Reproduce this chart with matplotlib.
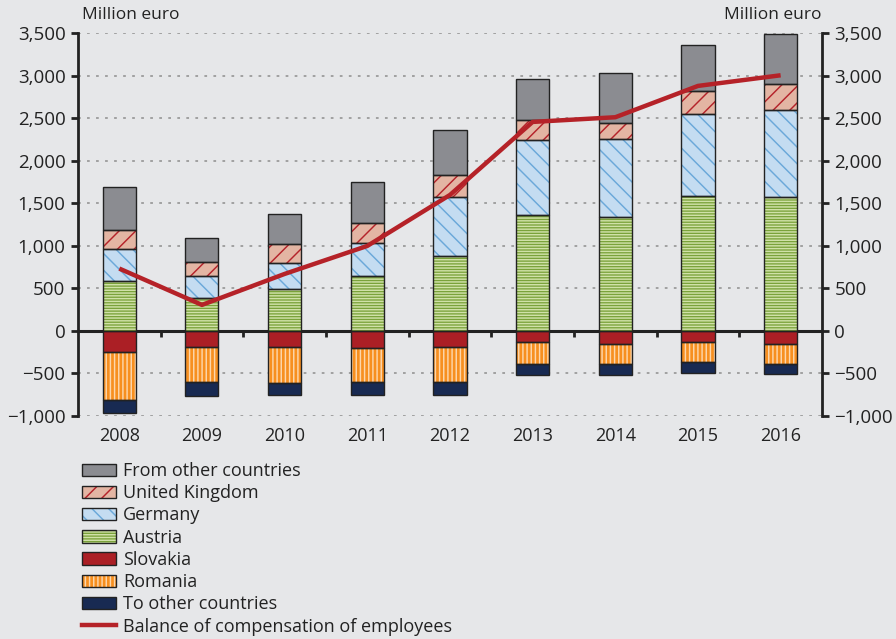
import numpy as np
import matplotlib
matplotlib.use("Agg")
import matplotlib.pyplot as plt
from matplotlib.patches import Patch
from matplotlib.lines import Line2D
from matplotlib.ticker import FuncFormatter, MultipleLocator

# data (million euro)
years = ["2008", "2009", "2010", "2011", "2012", "2013", "2014", "2015", "2016"]

austria = [591, 384, 489, 646, 881, 1366, 1339, 1586, 1574]
germany = [372, 258, 306, 383, 689, 874, 912, 959, 1022]
united_kingdom = [220, 165, 223, 239, 262, 242, 192, 274, 305]
from_other = [505, 281, 360, 486, 529, 474, 583, 540, 589]

slovakia = [-243, -192, -192, -204, -192, -129, -149, -129, -149]
romania = [-567, -411, -423, -399, -411, -263, -243, -235, -235]
to_other = [-157, -168, -141, -153, -153, -129, -129, -126, -121]

balance = [732, 305, 669, 998, 1597, 2455, 2510, 2878, 3003]

BG = "#e6e7e9"
FONT = ["Open Sans", "DejaVu Sans"]

plt.rcParams["font.family"] = FONT
plt.rcParams["hatch.linewidth"] = 1.05

# (label, values, fill, hatch, hatch colour)
positive = [
    ("Austria", austria, "#7aa23a", "------", "#d0e1a8"),
    ("Germany", germany, "#c4dcf1", "\\\\", "#6ba8d9"),
    ("United Kingdom", united_kingdom, "#e3b5a3", "//", "#b5232a"),
    ("From other countries", from_other, "#8b8c91", "", "#8b8c91"),
]
negative = [
    ("Slovakia", slovakia, "#ab1f25", "", "#ab1f25"),
    ("Romania", romania, "#f78f1f", "||||", "#fdd6ab"),
    ("To other countries", to_other, "#182a52", "", "#182a52"),
]

fig = plt.figure(figsize=(8.96, 6.39), dpi=100, facecolor=BG)
ax = fig.add_axes([0.087, 0.349, 0.8304, 0.5994], facecolor=BG)

x = np.arange(len(years))
width = 0.4
handles = {}


def draw_stack(series):
    base = np.zeros(len(years))
    for label, vals, fill, hatch, hcol in series:
        vals = np.array(vals, dtype=float)
        ax.bar(x, vals, width, bottom=base, color=fill, hatch=hatch,
               edgecolor=hcol, linewidth=0, zorder=3)
        ax.bar(x, vals, width, bottom=base, facecolor="none",
               edgecolor="#222222", linewidth=1.0, zorder=4)
        handles[label] = (
            Patch(facecolor=fill, hatch=hatch, edgecolor=hcol, linewidth=0),
            Patch(facecolor="none", edgecolor="#222222", linewidth=1.0),
        )
        base = base + vals


draw_stack(positive)
draw_stack(negative)

ax.plot(x, balance, color="#b52228", linewidth=3.2, zorder=6,
        solid_capstyle="butt")

ax.set_xlim(-0.5, len(years) - 0.5)
ax.set_ylim(-1000, 3500)

# dotted grid
for v in np.arange(-1000, 3501, 500):
    if v != 0:
        ax.axhline(v, color="#9b9b9b", linewidth=1.3,
                   linestyle=(0, (1.5, 3.5)), zorder=1)

ax.yaxis.set_major_locator(MultipleLocator(500))
ax.yaxis.set_major_formatter(
    FuncFormatter(lambda v, p: f"{v:,.0f}".replace("-", "\u2212")))
ax.tick_params(axis="y", which="major", direction="out", length=5,
               width=2, color="#222222", labelsize=13.5, labelcolor="#222222",
               right=True, labelright=True, pad=4)

for side in ["left", "right"]:
    ax.spines[side].set_linewidth(2)
    ax.spines[side].set_color("#222222")
ax.spines["top"].set_visible(False)

# zero line with small ticks between the bars
ax.spines["bottom"].set_position(("data", 0))
ax.spines["bottom"].set_linewidth(2.2)
ax.spines["bottom"].set_color("#222222")
ax.set_xticks(x)
ax.set_xticks(x[:-1] + 0.5, minor=True)
ax.tick_params(axis="x", which="major", length=0, labelbottom=False)
ax.tick_params(axis="x", which="minor", direction="out", length=4,
               width=2, color="#222222")

sec = ax.secondary_xaxis("bottom")
sec.set_xticks(x, years)
sec.tick_params(length=0, labelsize=13, labelcolor="#222222", pad=8)
sec.spines["bottom"].set_visible(False)

fig.text(0.092, 0.977, "Million euro", fontsize=12.5, color="#222222",
         va="center", ha="left")
fig.text(0.9174, 0.977, "Million euro", fontsize=12.5, color="#222222",
         va="center", ha="right")

order = ["From other countries", "United Kingdom", "Germany", "Austria",
         "Slovakia", "Romania", "To other countries"]
leg_handles = [handles[k] for k in order]
leg_handles.append(Line2D([0], [0], color="#b52228", linewidth=3.2))
leg_labels = order + ["Balance of compensation of employees"]

fig.legend(leg_handles, leg_labels, loc="upper left",
           bbox_to_anchor=(0.092, 0.277), frameon=False, fontsize=13,
           handlelength=1.85, handleheight=0.67, handletextpad=0.4,
           labelspacing=0.235, borderaxespad=0, borderpad=0,
           labelcolor="#222222")

fig.savefig("out.png", dpi=100, facecolor=BG)
